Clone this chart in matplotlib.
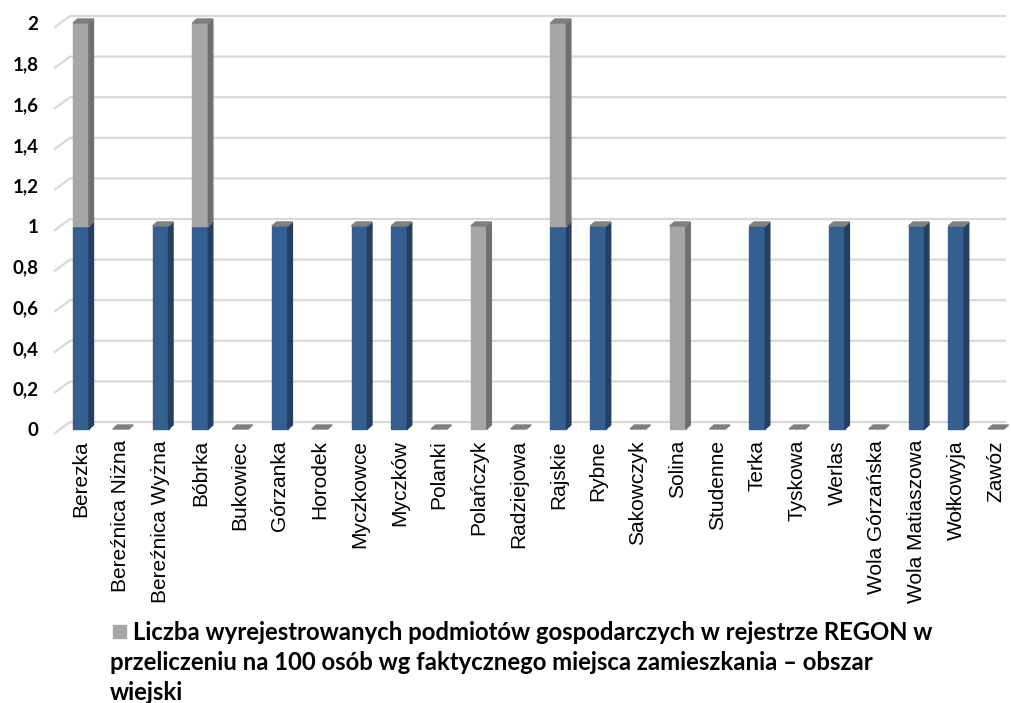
import numpy as np
import matplotlib.pyplot as plt
from matplotlib.patches import Polygon, Rectangle

# dane
miejscowosci = ['Berezka', 'Bereźnica Niżna', 'Bereźnica Wyżna', 'Bóbrka', 'Bukowiec',
                'Górzanka', 'Horodek', 'Myczkowce', 'Myczków', 'Polanki', 'Polańczyk',
                'Radziejowa', 'Rajskie', 'Rybne', 'Sakowczyk', 'Solina', 'Studenne',
                'Terka', 'Tyskowa', 'Werlas', 'Wola Górzańska', 'Wola Matiaszowa',
                'Wołkowyja', 'Zawóz']
miasto = [1, 0, 1, 1, 0, 1, 0, 1, 1, 0, 0, 0, 1, 1, 0, 0, 0, 1, 0, 1, 0, 1, 1, 0]
wies = [1, 0, 0, 1, 0, 0, 0, 0, 0, 0, 1, 0, 1, 0, 0, 1, 0, 0, 0, 0, 0, 0, 0, 0]
yticks = [0, 0.2, 0.4, 0.6, 0.8, 1, 1.2, 1.4, 1.6, 1.8, 2]
legenda = ['Liczba wyrejestrowanych podmiotów gospodarczych w rejestrze REGON w',
           'przeliczeniu na 100 osób wg faktycznego miejsca zamieszkania – obszar',
           'wiejski']

plt.rcParams['font.family'] = ['Lato', 'DejaVu Sans']

W, H = 1012, 703
fig = plt.figure(figsize=(W / 100, H / 100), dpi=100)
ax = fig.add_axes([55 / W, (H - 429) / H, 953 / W, 406 / H])
ax.set_xlim(-0.654, 23.3)
ax.set_ylim(0, 2)

# przeliczenie pikseli na jednostki danych
px = 23.954 / 953
py = 2 / 406

niebieski = '#355f91'
niebieski_bok = '#243f61'
szary = '#a6a6a6'
szary_bok = '#6f6f6f'
szary_gora = '#7f7f7f'

# linie siatki (tylna sciana)
for v in yticks:
    x0 = -0.654
    xs = [x0, x0 + 15 * px, 1005 * px - 55 * px + x0]
    ys = [v - 4 * py, v + 7 * py, v + 7 * py]
    ax.plot(xs, ys, color='#d9d9d9', lw=1.6, clip_on=False, zorder=1)

w = 0.40
dx = 4.5 * px
dy = 4 * py
x = np.arange(len(miejscowosci))
for i in x:
    b = miasto[i]
    g = wies[i]
    l = i - w / 2
    r = i + w / 2
    # niebieski
    if b > 0:
        ax.add_patch(Rectangle((l, 0), w, b, color=niebieski, zorder=3, clip_on=False))
        ax.add_patch(Polygon([(r, 0), (r + dx, dy), (r + dx, b + dy), (r, b)],
                             color=niebieski_bok, zorder=3, clip_on=False))
    # szary
    if g > 0:
        ax.add_patch(Rectangle((l, b), w, g, color=szary, zorder=3, clip_on=False))
        ax.add_patch(Polygon([(r, b), (r + dx, b + dy), (r + dx, b + g + dy), (r, b + g)],
                             color=szary_bok, zorder=3, clip_on=False))
    t = b + g
    ax.add_patch(Polygon([(l, t), (r, t), (r + dx, t + dy), (l + dx, t + dy)],
                         color=szary_gora, zorder=3, clip_on=False))

for s in ax.spines.values():
    s.set_visible(False)
ax.set_yticks(yticks)
ax.set_yticklabels([str(v).replace('.', ',') for v in yticks], fontsize=13.5, fontweight='bold')
ax.set_xticks(x)
ax.set_xticklabels(miejscowosci, rotation=90, fontsize=15, va='top', ha='center',
                   family=['Liberation Sans', 'DejaVu Sans'])
ax.tick_params(axis='both', length=0)
ax.tick_params(axis='x', pad=8)
ax.tick_params(axis='y', pad=12)

# legenda
fig.patches.append(Rectangle((113 / W, 1 - 638 / H), 13 / W, 13 / H, color=szary,
                             transform=fig.transFigure, figure=fig))
fig.text(133 / W, 1 - 632 / H, legenda[0], fontsize=17.2, fontweight='bold', va='center')
fig.text(110 / W, 1 - 663 / H, legenda[1], fontsize=17.2, fontweight='bold', va='center')
fig.text(110 / W, 1 - 692 / H, legenda[2], fontsize=17.2, fontweight='bold', va='center')

plt.savefig('out.png', dpi=100)
